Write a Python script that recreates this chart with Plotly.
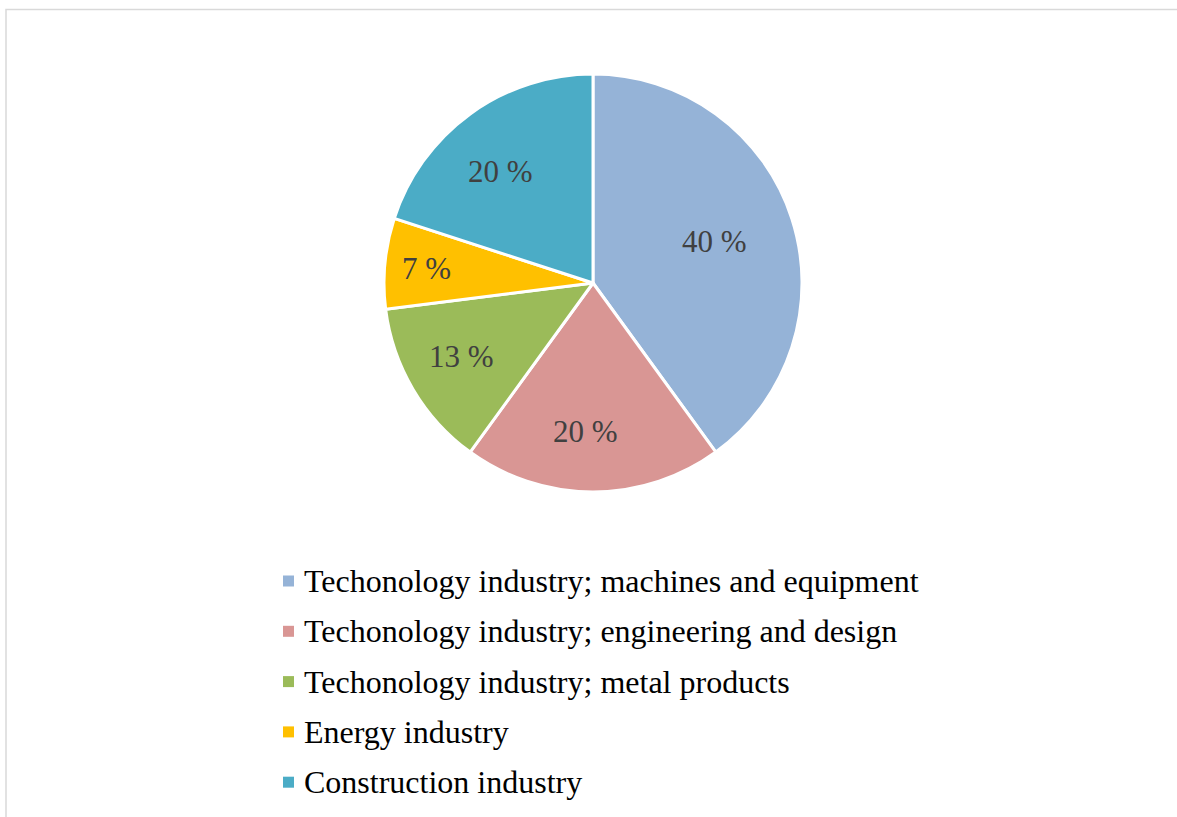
import math
import plotly.graph_objects as go

# Share of companies by industry
categories = [
    "Techonology industry; machines and equipment",
    "Techonology industry; engineering and design",
    "Techonology industry; metal products",
    "Energy industry",
    "Construction industry",
]
shares = [40, 20, 13, 7, 20]
colors = ["#95B3D7", "#D99694", "#9BBB59", "#FFC000", "#4BACC6"]

W, H = 1177, 817
FONT = "Liberation Serif, Times New Roman, serif"

# Pie geometry in pixels
CX, CY, R = 593, 283, 209
# how far out along each slice's bisector its percentage label sits,
# plus a small pixel nudge per label
label_radius = [0.61, 0.71, 0.73, 0.80, 0.69]
label_nudge = [(0, 0), (-8, 2), (0, -2), (0, 3), (-8, 7)]

fig = go.Figure()
fig.add_trace(go.Pie(
    labels=categories,
    values=shares,
    sort=False,
    direction="clockwise",
    rotation=0,
    marker=dict(colors=colors, line=dict(color="white", width=3)),
    textinfo="none",
    domain=dict(x=[(CX - R) / W, (CX + R) / W],
                y=[1 - (CY + R) / H, 1 - (CY - R) / H]),
    showlegend=False,
    hoverinfo="label+percent",
))

annotations = []

# Percentage labels placed on each slice's bisector
total = sum(shares)
cum = 0
for v, rf, (dx, dy) in zip(shares, label_radius, label_nudge):
    mid = (cum + v / 2) / total * 2 * math.pi
    cum += v
    px = CX + rf * R * math.sin(mid) + dx
    py = CY - rf * R * math.cos(mid) + dy
    annotations.append(dict(text=f"{v} %", xref="paper", yref="paper",
                            x=px / W, y=1 - (py - 2) / H,
                            xanchor="center", yanchor="middle", showarrow=False,
                            font=dict(family=FONT, size=31, color="#404040")))

# Legend drawn as rows of square swatches and labels
shapes = [dict(type="rect", xref="paper", yref="paper",
               x0=6 / W, x1=1.2, y0=-0.2, y1=1 - 9.5 / H,
               line=dict(color="#D9D9D9", width=1.5), fillcolor="rgba(0,0,0,0)")]
row0, gap = 581, 50.3
for i, (name, c) in enumerate(zip(categories, colors)):
    yc = row0 + i * gap
    shapes.append(dict(type="rect", xref="paper", yref="paper",
                       x0=283 / W, x1=294 / W,
                       y0=1 - (yc + 5.5) / H, y1=1 - (yc - 5.5) / H,
                       fillcolor=c, line=dict(width=0)))
    annotations.append(dict(text=name, xref="paper", yref="paper",
                            x=302 / W, y=1 - yc / H, xanchor="left", yanchor="middle",
                            showarrow=False,
                            font=dict(family=FONT, size=32, color="#000000")))

fig.update_layout(
    width=W, height=H,
    margin=dict(l=0, r=0, t=0, b=0),
    paper_bgcolor="white",
    plot_bgcolor="white",
    shapes=shapes,
    annotations=annotations,
)

fig.write_html("out.html")
